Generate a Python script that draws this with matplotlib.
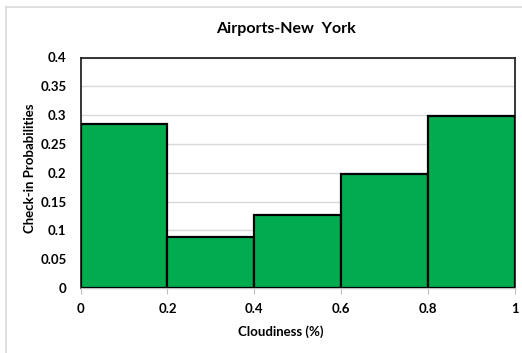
import matplotlib.pyplot as plt
from matplotlib.lines import Line2D

bin_edges = [0.0, 0.2, 0.4, 0.6, 0.8]
bin_width = 0.2
probabilities = [0.285, 0.089, 0.127, 0.198, 0.298]
x_ticks = [0, 0.2, 0.4, 0.6, 0.8, 1]
x_tick_labels = ["0", "0.2", "0.4", "0.6", "0.8", "1"]
y_ticks = [0, 0.05, 0.1, 0.15, 0.2, 0.25, 0.3, 0.35, 0.4]
y_tick_labels = ["0", "0.05", "0.1", "0.15", "0.2", "0.25", "0.3", "0.35", "0.4"]

plt.rcParams['font.family'] = ['Lato', 'DejaVu Sans']

fig = plt.figure(figsize=(5.22, 3.53), dpi=100)
fig.patch.set_facecolor('white')

# light chart-area border along the left and top edges
W, H = 522, 353
border = dict(color='#d9d9d9', lw=1.2, transform=fig.transFigure)
fig.add_artist(Line2D([6 / W, 6 / W], [0, 1 - 7 / H], **border))
fig.add_artist(Line2D([6 / W, 1], [1 - 7 / H, 1 - 7 / H], **border))

ax = fig.add_axes([80.5 / W, 1 - 288 / H, (515 - 80.5) / W, (288 - 57.5) / H])

ax.bar(bin_edges, probabilities, width=bin_width, align='edge',
       color='#00ac4e', edgecolor='black', linewidth=1.6, zorder=3)

ax.set_xlim(0, 1)
ax.set_ylim(0, 0.4)
ax.set_yticks(y_ticks)
ax.set_yticklabels(y_tick_labels)
ax.set_xticks(x_ticks)
ax.set_xticklabels(x_tick_labels)

ax.yaxis.grid(True, color='#d9d9d9', lw=1.0, zorder=0)
ax.set_axisbelow(True)

for s in ['top', 'right', 'left']:
    ax.spines[s].set_color('#262626')
    ax.spines[s].set_linewidth(1.3)
ax.spines['bottom'].set_color('#bfbfbf')
ax.spines['bottom'].set_linewidth(1.0)

ax.tick_params(axis='y', length=0, pad=10, labelsize=9.5)
ax.tick_params(axis='x', length=4, color='#bfbfbf', pad=7, labelsize=9.5)
for lab in ax.get_xticklabels() + ax.get_yticklabels():
    lab.set_fontweight('bold')

fig.text(281 / W, 1 - 332 / H, 'Cloudiness (%)', ha='center', va='center',
         fontsize=9.5, fontweight='bold')
fig.text(30 / W, 1 - 168 / H, 'Check-in Probabilities', ha='center', va='center',
         rotation=90, fontsize=9.5, fontweight='bold')
fig.text(286 / W, 1 - 29 / H, 'Airports-New  York', ha='center', va='center',
         fontsize=11.5, fontweight='bold')

fig.savefig('out.png', dpi=100, facecolor='white')
